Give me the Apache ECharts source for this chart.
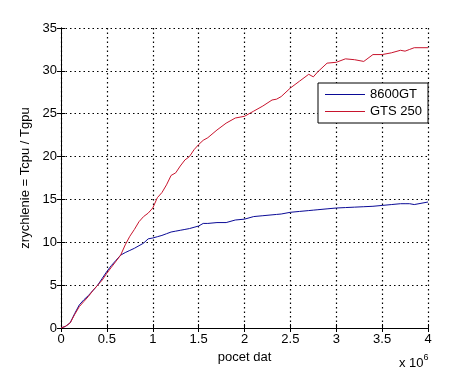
<!DOCTYPE html>
<html>
<head>
<meta charset="utf-8">
<script src="https://cdn.jsdelivr.net/npm/echarts@6/dist/echarts.min.js"></script>
<style>
  html, body { margin: 0; padding: 0; background: #fff; }
  #main { width: 473px; height: 369px; }
</style>
</head>
<body>
<div id="main"></div>
<script>
// pocet dat (x 10^6)
var xData = [0, 0.05, 0.1, 0.15, 0.2, 0.25, 0.3, 0.35, 0.4, 0.45, 0.5, 0.55, 0.6, 0.65, 0.7, 0.75, 0.8, 0.85, 0.9, 0.95,
  1.0, 1.05, 1.1, 1.15, 1.2, 1.25, 1.3, 1.35, 1.4, 1.45, 1.5, 1.55, 1.6, 1.7, 1.8, 1.9, 2.0, 2.1, 2.2, 2.3, 2.35,
  2.4, 2.5, 2.6, 2.7, 2.75, 2.8, 2.9, 3.0, 3.1, 3.2, 3.3, 3.4, 3.5, 3.6, 3.7, 3.75, 3.8, 3.85, 4.0];
var gts250 = [0, 0.2, 0.6, 1.6, 2.5, 3.1, 3.7, 4.4, 5.0, 5.6, 6.4, 7.1, 7.8, 8.5, 9.7, 10.7, 11.5, 12.4, 13.0, 13.4,
  14.0, 15.2, 15.8, 16.7, 17.8, 18.1, 18.9, 19.6, 20.0, 20.8, 21.4, 21.9, 22.2, 23.1, 23.9, 24.5, 24.7, 25.3, 25.9, 26.6, 26.7,
  27.0, 28.0, 28.8, 29.6, 29.3, 29.9, 30.9, 31.0, 31.4, 31.3, 31.1, 31.9, 31.9, 32.1, 32.4, 32.3, 32.5, 32.7, 32.7];
var gt8600 = [0, 0.2, 0.6, 1.7, 2.7, 3.3, 3.8, 4.4, 5.0, 5.8, 6.6, 7.3, 7.9, 8.5, 8.8, 9.05, 9.3, 9.6, 9.9, 10.4,
  10.5, 10.65, 10.8, 11.0, 11.2, 11.3, 11.4, 11.5, 11.6, 11.75, 11.9, 12.2, 12.2, 12.3, 12.3, 12.6, 12.7, 13.0, 13.1, 13.2, 13.25,
  13.3, 13.5, 13.6, 13.7, 13.75, 13.8, 13.9, 14.0, 14.05, 14.1, 14.15, 14.2, 14.3, 14.4, 14.5, 14.5, 14.5, 14.4, 14.7];
var seriesNames = ['8600GT', 'GTS 250'];

function pairs(ys) {
  return xData.map(function (x, i) { return [x, ys[i]]; });
}

var myChart = echarts.init(document.getElementById('main'));
var font = 'Liberation Sans, Arial, sans-serif';
var dotted = { show: true, lineStyle: { color: '#000', type: [1.5, 3], width: 1.2 } };
var boxAxisLine = { show: true, lineStyle: { color: '#000', width: 1 } };
var tick = { show: true, inside: true, length: 4, lineStyle: { color: '#000' } };

myChart.setOption({
  animation: false,
  backgroundColor: '#fff',
  textStyle: { fontFamily: font },
  grid: {
    left: 61, top: 28, width: 367, height: 300,
    show: false, containLabel: false
  },
  legend: {
    left: 318, top: 83,
    orient: 'vertical',
    backgroundColor: '#fff',
    borderColor: '#000',
    borderWidth: 1,
    borderRadius: 0,
    padding: [5, 6, 5, 7],
    itemGap: 4,
    itemWidth: 40,
    itemHeight: 1,
    icon: 'rect',
    textStyle: { fontSize: 13, color: '#000', fontFamily: font },
    data: seriesNames
  },
  xAxis: [{
    type: 'value', min: 0, max: 4, interval: 0.5,
    name: 'pocet dat', nameLocation: 'middle', nameGap: 22,
    nameTextStyle: { fontSize: 13, color: '#000' },
    axisLine: boxAxisLine,
    axisTick: tick,
    axisLabel: { fontSize: 13, color: '#000', margin: 5 },
    splitLine: dotted
  }, {
    type: 'value', min: 0, max: 4, interval: 0.5, position: 'top',
    axisLine: boxAxisLine, axisTick: tick,
    axisLabel: { show: false }, splitLine: { show: false }
  }],
  yAxis: [{
    type: 'value', min: 0, max: 35, interval: 5,
    name: 'zrychlenie = Tcpu / Tgpu', nameLocation: 'middle', nameGap: 25, nameRotate: 90,
    nameTextStyle: { fontSize: 13, color: '#000' },
    axisLine: boxAxisLine,
    axisTick: tick,
    axisLabel: { fontSize: 13, color: '#000', margin: 4 },
    splitLine: dotted
  }, {
    type: 'value', min: 0, max: 35, interval: 5, position: 'right',
    axisLine: boxAxisLine, axisTick: tick,
    axisLabel: { show: false }, splitLine: { show: false }
  }],
  series: [{
    name: seriesNames[0], type: 'line', symbol: 'none',
    itemStyle: { color: '#0a0a96' },
    lineStyle: { color: '#0a0a96', width: 1 },
    data: pairs(gt8600)
  }, {
    name: seriesNames[1], type: 'line', symbol: 'none',
    itemStyle: { color: '#c8142d' },
    lineStyle: { color: '#c8142d', width: 1 },
    data: pairs(gts250)
  }],
  graphic: [{
    type: 'text', left: 399, top: 353,
    style: {
      text: '{a|x 10}{b|6}',
      rich: {
        a: { fontSize: 13, fontFamily: font, fill: '#000', verticalAlign: 'bottom' },
        b: { fontSize: 9, fontFamily: font, fill: '#000', verticalAlign: 'top', padding: [0, 0, 8, 0] }
      }
    }
  }]
});
</script>
</body>
</html>
